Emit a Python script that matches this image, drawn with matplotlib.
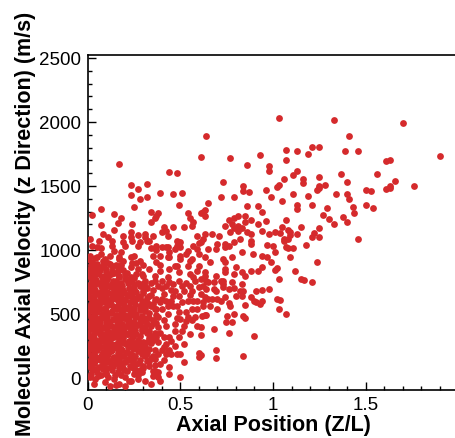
import matplotlib
matplotlib.use('Agg')
import matplotlib.pyplot as plt
from matplotlib.ticker import MultipleLocator, FuncFormatter

plt.rcParams['font.family'] = ['Liberation Sans', 'DejaVu Sans']

# sparse upper part (x = Z/L, v = axial velocity m/s)
upper_pts = [
    (1.03, 2034), (1.33, 2016), (1.70, 1990), (1.41, 1888), (1.90, 1732), (1.07, 1781), (1.13, 1771),
    (1.21, 1807), (1.25, 1802), (1.19, 1752), (1.39, 1776), (1.46, 1771), (1.07, 1703), (1.61, 1693),
    (1.63, 1705), (0.98, 1659), (0.98, 1620), (1.13, 1620), (1.11, 1583), (1.06, 1555), (1.16, 1555),
    (1.16, 1523), (1.25, 1568), (1.37, 1596), (1.56, 1596), (1.40, 1531), (1.66, 1537), (1.76, 1498),
    (1.03, 1510), (1.02, 1495), (1.25, 1498), (1.28, 1508), (1.24, 1466), (1.25, 1482), (1.50, 1471),
    (1.53, 1461), (1.61, 1474), (1.63, 1484), (1.63, 1498), (0.99, 1416), (1.11, 1435), (1.19, 1424),
    (1.34, 1435), (1.40, 1437), (1.05, 1380), (1.41, 1398), (1.13, 1352), (1.13, 1320), (1.21, 1349),
    (1.29, 1328), (1.43, 1333), (1.50, 1349), (1.54, 1326), (1.44, 1289), (1.27, 1271), (1.30, 1240),
    (1.38, 1260), (1.40, 1216), (1.33, 1205), (1.07, 1232), (1.05, 1182), (1.15, 1180), (1.25, 1169),
    (1.01, 1141), (1.04, 1133), (1.08, 1159), (1.09, 1138), (1.09, 1117), (1.13, 1125), (1.22, 1135),
    (1.21, 1099), (1.25, 1102), (1.46, 1088), (1.06, 1068), (1.08, 1086), (1.00, 1034), (1.07, 1021),
    (1.11, 1018), (1.18, 1039),
    (0.17, 1672), (0.64, 1888), (0.61, 1724), (0.77, 1719), (0.93, 1745), (0.86, 1662), (0.44, 1609),
    (0.48, 1604), (0.73, 1531), (0.23, 1510), (0.32, 1516), (0.27, 1474), (0.23, 1427), (0.28, 1401),
    (0.32, 1412), (0.39, 1445), (0.46, 1435), (0.51, 1443), (0.49, 1354), (0.25, 1338), (0.65, 1370),
    (0.72, 1416), (0.79, 1416), (0.84, 1498), (0.84, 1459), (0.87, 1451), (0.96, 1471), (0.86, 1341),
    (0.92, 1346), (0.94, 1294), (0.07, 1323), (0.02, 1271), (0.14, 1281), (0.18, 1248), (0.16, 1211),
    (0.07, 1193), (0.24, 1203), (0.34, 1297), (0.38, 1291), (0.37, 1266), (0.36, 1250), (0.34, 1219),
    (0.14, 1156), (0.08, 1123), (0.11, 1102), (0.01, 1086), (0.06, 1073), (0.23, 1138), (0.23, 1102),
    (0.27, 1120), (0.31, 1127), (0.31, 1099), (0.35, 1109), (0.41, 1182), (0.46, 1180), (0.40, 1143),
    (0.43, 1112), (0.54, 1286), (0.55, 1252), (0.57, 1219), (0.52, 1180), (0.56, 1190), (0.61, 1286),
    (0.63, 1315), (0.62, 1297), (0.59, 1107), (0.63, 1125), (0.67, 1125), (0.71, 1112), (0.74, 1190),
    (0.76, 1237), (0.79, 1250), (0.81, 1268), (0.78, 1203), (0.81, 1190), (0.85, 1263), (0.88, 1237),
    (0.85, 1216), (0.92, 1205), (0.96, 1227), (0.79, 1174), (0.81, 1151), (0.77, 1138), (0.83, 1169),
    (0.86, 1138), (0.88, 1125), (0.94, 1151), (0.98, 1125), (0.97, 1042), (0.88, 1073), (0.82, 1086),
    (0.79, 1060), (0.76, 1034), (0.70, 1044), (0.62, 1086), (0.60, 1055), (0.50, 1060), (0.48, 1034),
    (0.43, 1021), (0.37, 1034), (0.33, 1073), (0.28, 1060), (0.19, 1065), (0.20, 1034), (0.13, 1034),
    (0.05, 1021), (0.02, 1034), (0.42, 1151), (0.63, 1266), (0.19, 1112), (0.13, 1073),
]

# middle band
mid_pts = [
    (1.24, 906), (1.12, 838), (1.15, 773), (1.17, 768), (1.21, 747), (1.03, 773), (1.01, 846),
    (1.09, 943), (1.08, 1013), (0.98, 695), (1.02, 617), (1.04, 609), (1.03, 539), (1.07, 502),
    (0.90, 326), (0.84, 170), (0.69, 221), (0.69, 156), (0.68, 383), (0.76, 352), (0.61, 182),
    (0.61, 336), (0.61, 396), (0.78, 435), (0.745, 440), (0.84, 482), (0.85, 466), (0.79, 500),
    (0.75, 482), (0.64, 492), (0.615, 488), (0.70, 539), (0.77, 565), (0.76, 586), (0.85, 573),
    (0.93, 575), (0.94, 604), (0.90, 604), (0.88, 630), (0.83, 643), (0.80, 643), (0.74, 630),
    (0.72, 604), (0.67, 617), (0.63, 630), (0.62, 591), (0.64, 695), (0.69, 682), (0.73, 708),
    (0.76, 695), (0.79, 700), (0.82, 682), (0.84, 682), (0.91, 682), (0.94, 688), (0.83, 734),
    (0.78, 747), (0.73, 760), (0.68, 747), (0.64, 760), (0.62, 721), (0.63, 799), (0.69, 799),
    (0.74, 825), (0.79, 812), (0.80, 865), (0.83, 825), (0.85, 799), (0.88, 838), (0.92, 838),
    (0.94, 865), (1.02, 857), (0.99, 904), (0.97, 943), (0.94, 956), (0.89, 969), (0.83, 982),
    (0.78, 943), (0.74, 904), (0.73, 930), (0.66, 904), (0.63, 943), (0.69, 1008), (0.61, 1060),
    (0.74, 1047), (0.88, 1047), (1.01, 982), (1.06, 1086), (0.91, 591),
    (0.39, -26), (0.50, 5), (0.38, 44), (0.44, 84), (0.44, 31), (0.39, 109), (0.52, 122),
    (0.60, 161), (0.60, 193), (0.38, 188), (0.42, 188), (0.43, 200), (0.45, 188), (0.48, 188),
    (0.50, 188), (0.44, 219), (0.40, 219), (0.47, 253), (0.52, 266), (0.42, 266), (0.45, 292),
    (0.38, 279), (0.37, 318), (0.41, 318), (0.44, 318), (0.49, 318), (0.55, 344), (0.52, 409),
    (0.47, 370), (0.51, 370), (0.59, 409), (0.42, 409), (0.38, 400), (0.53, 448), (0.54, 474),
    (0.63, 495), (0.56, 539), (0.59, 539), (0.53, 513), (0.49, 513), (0.43, 500), (0.40, 539),
    (0.46, 565), (0.45, 604), (0.39, 590), (0.51, 591), (0.54, 604), (0.59, 598), (0.65, 617),
    (0.70, 617), (0.46, 643), (0.41, 656), (0.47, 682), (0.52, 682), (0.56, 682), (0.61, 656),
    (0.60, 708), (0.68, 695), (0.73, 734), (0.72, 760), (0.65, 747), (0.61, 773), (0.57, 786),
    (0.49, 760), (0.44, 747), (0.43, 786), (0.40, 760), (0.46, 734), (0.53, 740), (0.63, 825),
    (0.59, 838), (0.55, 812), (0.49, 825), (0.44, 851), (0.39, 838), (0.74, 851), (0.54, 877),
    (0.47, 877), (0.65, 1008), (0.74, 1021), (0.59, 1008), (0.53, 969), (0.47, 1008), (0.43, 943),
    (0.42, 1021), (0.37, 1000), (0.50, 930), (0.56, 930),
    (0.07, 1016), (0.14, 995), (0.18, 984), (0.24, 1073), (0.27, 1034), (0.32, 1073), (0.34, 1016),
    (0.40, 1021), (0.39, 956), (0.44, 984), (0.48, 1073), (0.50, 1021), (0.54, 995), (0.50, 956),
    (0.57, 1034), (0.60, 969), (0.00, 930), (0.05, 943), (0.09, 930), (0.12, 891), (0.17, 930),
    (0.23, 943), (0.28, 917), (0.35, 956), (0.37, 904), (0.44, 943), (0.48, 877), (0.55, 917),
    (0.60, 877), (0.34, -47), (0.31, -21), (0.35, 57), (0.29, 44), (0.23, -21), (0.38, 5),
    (0.36, 150), (0.33, 230), (0.41, 140),
    (0.38, 480), (0.41, 455), (0.37, 620), (0.40, 700), (0.36, 760), (0.38, 720), (0.42, 600),
    (0.48, 560), (0.50, 460), (0.47, 420), (0.56, 450), (0.58, 480), (0.57, 600), (0.62, 560),
    (0.66, 560), (0.55, 720), (0.51, 720), (0.58, 760), (0.36, 800), (0.39, 880), (0.33, 850),
    (0.35, 690), (0.45, 690), (0.49, 640), (0.55, 645), (0.43, 560), (0.48, 470),
    (0.31, 180), (0.34, 320), (0.31, 390), (0.35, 430), (0.32, 470), (0.35, 580), (0.33, 640),
    (0.31, 720), (0.34, 740), (0.30, 880), (0.26, 900), (0.29, 810), (0.39, 350), (0.40, 620),
    (0.42, 720), (0.37, 540), (0.41, 240), (0.36, 100), (0.27, 20), (0.25, 950),
]

# dense core near the inlet
core_pts = [
    (0.03, -45), (0.12, -60), (0.15, -55), (0.17, -50), (0.09, -30), (0.22, -20), (0.20, -65),
    (0.01, 10), (0.04, -10), (0.07, 20), (0.11, 5), (0.14, -5), (0.18, 25), (0.27, -5), (0.35, 15),
    (0.02, 60), (0.05, 45), (0.08, 70), (0.10, 40), (0.13, 65), (0.16, 50), (0.19, 75), (0.21, 55),
    (0.25, 80), (0.28, 60), (0.33, 90), (0.36, 55),
    (0.01, 95), (0.03, 120), (0.06, 85), (0.08, 110), (0.10, 130), (0.13, 90), (0.15, 115),
    (0.18, 100), (0.20, 125), (0.23, 85), (0.26, 110), (0.30, 95), (0.33, 130),
    (0.02, 160), (0.04, 140), (0.07, 170), (0.09, 150), (0.12, 135), (0.14, 165), (0.17, 145),
    (0.19, 175), (0.22, 150), (0.25, 160), (0.28, 140), (0.31, 170), (0.34, 155),
    (0.00, 210), (0.03, 190), (0.05, 220), (0.08, 200), (0.11, 185), (0.13, 215), (0.16, 195),
    (0.18, 225), (0.21, 205), (0.24, 180), (0.27, 210), (0.29, 230), (0.32, 195), (0.36, 215),
    (0.01, 255), (0.04, 240), (0.06, 270), (0.09, 250), (0.12, 235), (0.15, 265), (0.17, 245),
    (0.20, 275), (0.23, 250), (0.26, 240), (0.28, 260), (0.31, 245), (0.34, 270),
    (0.02, 305), (0.05, 290), (0.07, 315), (0.10, 300), (0.12, 285), (0.14, 320), (0.17, 295),
    (0.19, 310), (0.22, 290), (0.24, 315), (0.27, 300), (0.30, 285), (0.33, 310), (0.35, 295),
    (0.00, 355), (0.03, 340), (0.06, 365), (0.08, 345), (0.11, 360), (0.13, 335), (0.16, 370),
    (0.18, 350), (0.21, 345), (0.23, 360), (0.26, 340), (0.29, 365), (0.32, 350), (0.36, 355),
    (0.01, 405), (0.04, 390), (0.06, 415), (0.09, 400), (0.11, 420), (0.14, 395), (0.16, 410),
    (0.19, 385), (0.21, 405), (0.24, 395), (0.27, 415), (0.30, 400), (0.34, 410),
    (0.02, 455), (0.05, 440), (0.07, 465), (0.10, 450), (0.12, 435), (0.15, 460), (0.17, 445),
    (0.20, 470), (0.22, 450), (0.25, 440), (0.28, 460), (0.31, 445), (0.35, 455),
    (0.00, 505), (0.03, 490), (0.05, 515), (0.08, 500), (0.10, 485), (0.13, 520), (0.15, 495),
    (0.18, 510), (0.20, 490), (0.23, 515), (0.26, 500), (0.29, 485), (0.33, 510), (0.37, 495),
    (0.01, 555), (0.04, 540), (0.06, 565), (0.09, 550), (0.11, 570), (0.14, 545), (0.16, 560),
    (0.19, 535), (0.22, 555), (0.25, 545), (0.28, 565), (0.31, 550), (0.34, 560),
    (0.02, 605), (0.05, 590), (0.07, 615), (0.10, 600), (0.12, 585), (0.15, 620), (0.17, 595),
    (0.20, 610), (0.23, 590), (0.26, 615), (0.29, 600), (0.32, 585), (0.36, 610),
    (0.00, 655), (0.03, 640), (0.06, 665), (0.08, 645), (0.11, 660), (0.13, 635), (0.16, 670),
    (0.18, 650), (0.21, 645), (0.24, 660), (0.27, 640), (0.30, 665), (0.34, 650),
    (0.01, 705), (0.04, 690), (0.07, 715), (0.09, 700), (0.12, 720), (0.14, 695), (0.17, 710),
    (0.19, 685), (0.22, 705), (0.25, 695), (0.28, 715), (0.32, 700),
    (0.02, 755), (0.05, 740), (0.08, 765), (0.10, 750), (0.13, 735), (0.15, 760), (0.18, 745),
    (0.21, 770), (0.24, 750), (0.27, 740), (0.31, 760),
    (0.00, 805), (0.03, 790), (0.06, 815), (0.09, 800), (0.11, 785), (0.14, 820), (0.17, 795),
    (0.20, 810), (0.23, 790), (0.26, 815), (0.30, 800),
    (0.01, 855), (0.04, 840), (0.07, 865), (0.10, 850), (0.13, 835), (0.16, 860), (0.19, 845),
    (0.23, 870), (0.27, 850),
    (0.02, 905), (0.05, 890), (0.08, 915), (0.11, 900), (0.15, 885), (0.19, 910), (0.24, 895),
    (0.01, 955), (0.04, 940), (0.07, 965), (0.12, 950), (0.17, 945),
]

# second layer of the core, between the rows above
core_fill_pts = [
    (0.015, 30), (0.055, 15), (0.095, 35), (0.145, 25), (0.20, 10), (0.25, 30),
    (0.015, 80), (0.045, 70), (0.075, 90), (0.105, 75), (0.135, 95), (0.165, 80), (0.195, 65),
    (0.225, 90), (0.255, 60), (0.30, 75),
    (0.005, 130), (0.035, 115), (0.065, 140), (0.095, 125), (0.125, 110), (0.155, 135),
    (0.185, 120), (0.215, 140), (0.245, 125), (0.275, 115), (0.32, 135),
    (0.015, 180), (0.045, 165), (0.075, 190), (0.105, 175), (0.135, 160), (0.165, 185),
    (0.195, 170), (0.225, 190), (0.255, 170), (0.29, 185), (0.35, 175),
    (0.005, 230), (0.035, 215), (0.065, 240), (0.095, 225), (0.125, 210), (0.155, 235),
    (0.185, 220), (0.215, 240), (0.245, 225), (0.30, 215),
    (0.015, 280), (0.045, 265), (0.075, 290), (0.105, 275), (0.135, 260), (0.165, 285),
    (0.195, 270), (0.225, 290), (0.255, 275), (0.29, 265), (0.32, 285),
    (0.005, 330), (0.035, 315), (0.065, 340), (0.095, 325), (0.125, 310), (0.155, 335),
    (0.185, 320), (0.215, 340), (0.245, 325), (0.28, 330), (0.34, 325),
    (0.015, 380), (0.045, 365), (0.075, 390), (0.105, 375), (0.135, 360), (0.165, 385),
    (0.195, 370), (0.225, 390), (0.255, 375), (0.29, 380), (0.33, 370),
    (0.005, 430), (0.035, 415), (0.065, 440), (0.095, 425), (0.125, 410), (0.155, 435),
    (0.185, 420), (0.215, 440), (0.245, 425), (0.28, 430), (0.32, 425), (0.37, 430),
    (0.015, 480), (0.045, 465), (0.075, 490), (0.105, 475), (0.135, 460), (0.165, 485),
    (0.195, 470), (0.225, 490), (0.255, 475), (0.29, 480), (0.33, 470),
    (0.005, 530), (0.035, 515), (0.065, 540), (0.095, 525), (0.125, 510), (0.155, 535),
    (0.185, 520), (0.215, 540), (0.245, 525), (0.28, 530), (0.31, 525), (0.36, 535),
    (0.015, 580), (0.045, 565), (0.075, 590), (0.105, 575), (0.135, 560), (0.165, 585),
    (0.195, 570), (0.225, 590), (0.255, 575), (0.29, 580), (0.33, 575),
    (0.005, 630), (0.035, 615), (0.065, 640), (0.095, 625), (0.125, 610), (0.155, 635),
    (0.185, 620), (0.215, 640), (0.245, 625), (0.28, 630), (0.32, 625),
    (0.015, 680), (0.045, 665), (0.075, 690), (0.105, 675), (0.135, 660), (0.165, 685),
    (0.195, 670), (0.225, 690), (0.26, 675), (0.30, 680),
    (0.005, 730), (0.035, 715), (0.065, 740), (0.095, 725), (0.125, 710), (0.155, 735),
    (0.185, 720), (0.215, 740), (0.25, 725), (0.29, 735),
    (0.015, 780), (0.045, 765), (0.075, 790), (0.105, 775), (0.135, 760), (0.165, 785),
    (0.20, 770), (0.25, 780),
    (0.005, 830), (0.035, 815), (0.065, 840), (0.095, 825), (0.125, 810), (0.16, 835), (0.21, 820),
    (0.015, 880), (0.045, 865), (0.085, 890), (0.13, 875), (0.18, 880),
]

x_ticks = [0, 0.5, 1, 1.5]
v_ticks = [0, 500, 1000, 1500, 2000, 2500]
dot_color = '#d52a2c'

fig = plt.figure(figsize=(4.55, 4.39), dpi=100)
ax = fig.add_axes([0.1934, 0.1093, 0.8132, 0.7631])

for pts in (core_pts, core_fill_pts, mid_pts, upper_pts):
    xs = [p[0] for p in pts]
    vs = [p[1] for p in pts]
    ax.scatter(xs, vs, s=24, color=dot_color, linewidths=0, zorder=3)

ax.set_xlim(0, 2)
ax.set_ylim(-94, 2523)
ax.set_xticks(x_ticks)
ax.set_yticks(v_ticks)
ax.xaxis.set_minor_locator(MultipleLocator(0.1))
ax.yaxis.set_minor_locator(MultipleLocator(100))
ax.xaxis.set_major_formatter(FuncFormatter(lambda v, p: '%g' % v))
ax.tick_params(which='both', direction='in', top=False, right=False,
               labelsize=13.5, width=1.0, color='black')
ax.tick_params(which='major', length=6, pad=4)
ax.tick_params(which='minor', length=3)
ax.tick_params(axis='y', pad=5)
for sp in ax.spines.values():
    sp.set_linewidth(1.2)

ax.set_xlabel('Axial Position (Z/L)', fontsize=15.5, fontweight='bold', va='center')
ax.xaxis.set_label_coords(0.5, -0.1015)
ax.set_ylabel('Molecule Axial Velocity (z Direction) (m/s)', fontsize=15.5,
              fontweight='bold', va='center')
ax.yaxis.set_label_coords(-0.168, 0.5)

fig.savefig('out.png', dpi=100)
